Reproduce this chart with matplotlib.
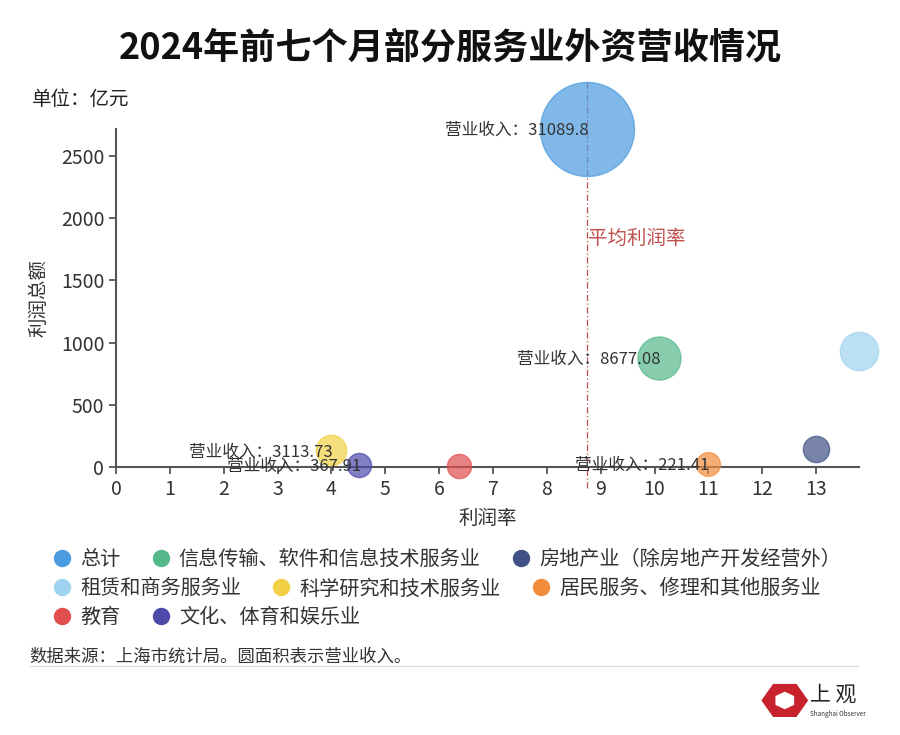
import matplotlib
matplotlib.use("Agg")
import matplotlib.pyplot as plt
from matplotlib.lines import Line2D
from matplotlib.patches import RegularPolygon

plt.rcParams['font.family'] = ['Noto Sans CJK SC', 'DejaVu Sans']

# data (亿元, %)
industries = ['总计', '信息传输、软件和信息技术服务业', '房地产业（除房地产开发经营外）',
              '租赁和商务服务业', '科学研究和技术服务业', '居民服务、修理和其他服务业',
              '教育', '文化、体育和娱乐业']
profit_rate = [8.75, 10.09, 13.0, 13.8, 4.0, 11.0, 6.37, 4.52]
total_profit = [2715, 875, 149, 935, 135, 24, 14, 18]
revenue = [31089.8, 8677.08, 1300, 6600, 3113.73, 221.41, 400, 367.91]
show_label = [True, True, False, False, True, True, False, True]
avg_rate = 8.75

colors = ['#4b9be0', '#55b88a', '#3f5185', '#9fd4f0',
          '#f2d045', '#f28c3c', '#e04e4e', '#4d4aaa']

fig = plt.figure(figsize=(9, 7.35), dpi=100)
ax = fig.add_axes([0.129, 0.3642, 0.8256, 0.4603])

# bubble diameter in px grows linearly with revenue, converted to points^2
sizes = [((23.3 + 0.002275 * r) * 0.72) ** 2 for r in revenue]
for x, y, s, c in zip(profit_rate, total_profit, sizes, colors):
    ax.scatter(x, y, s=s, color=c, alpha=0.7, edgecolors=c, linewidths=1.0,
               zorder=3, clip_on=False)

for x, y, r, lab in zip(profit_rate, total_profit, revenue, show_label):
    if lab:
        ax.annotate(f'营业收入：{r:g}', (x, y), xytext=(1, -1), textcoords='offset points',
                    ha='right', va='center', fontsize=12, color='#333333', zorder=5)

ax.axvline(avg_rate, ymin=-0.062, ymax=1.145, color='#c0504d', linestyle=(0, (5, 2, 1, 2)),
           linewidth=0.9, clip_on=False, zorder=2)
ax.text(avg_rate + 0.02, 1840, '平均利润率', color='#c0504d', fontsize=14,
        ha='left', va='center')

ax.set_xlim(0, 13.8)
ax.set_ylim(0, 2715)
ax.set_xticks(range(0, 14))
ax.set_yticks(range(0, 2501, 500))
for side in ['top', 'right']:
    ax.spines[side].set_visible(False)
for side in ['left', 'bottom']:
    ax.spines[side].set_color('#555555')
    ax.spines[side].set_linewidth(1.5)
ax.tick_params(colors='#555555', labelcolor='#333333', labelsize=14, length=5, width=1.3)
ax.set_xlabel('利润率', fontsize=14, color='#333333', labelpad=6)
ax.set_ylabel('利润总额', fontsize=14, color='#333333', labelpad=8)

fig.text(0.5, 0.935, '2024年前七个月部分服务业外资营收情况', ha='center', va='center',
         fontsize=26, fontweight='bold', color='#111111')
fig.text(0.035, 0.864, '单位：亿元', ha='left', va='center', fontsize=14, color='#222222')

# legend, three rows
rows = [[0, 1, 2], [3, 4, 5], [6, 7]]
row_tops = [0.253, 0.213, 0.174]
for idx, top in zip(rows, row_tops):
    handles = [Line2D([], [], marker='o', linestyle='', markersize=11.5,
                      markerfacecolor=colors[i], markeredgecolor=colors[i]) for i in idx]
    leg = fig.legend(handles, [industries[i] for i in idx], loc='upper left',
                     bbox_to_anchor=(0.06, top), ncol=len(idx), frameon=False,
                     fontsize=14.5, handlelength=0.8, handletextpad=0.5,
                     columnspacing=1.6, borderpad=0, borderaxespad=0)
    for t in leg.get_texts():
        t.set_color('#333333')

fig.text(0.033, 0.107, '数据来源：上海市统计局。圆面积表示营业收入。', ha='left', va='center',
         fontsize=12.5, color='#333333')
fig.add_artist(Line2D([0.033, 0.953], [0.094, 0.094], color='#dddddd', linewidth=1))

# logo
fig.add_artist(RegularPolygon((0.872, 0.047), 6, radius=0.026, orientation=0.5236,
                              facecolor='#c8232c', edgecolor='none',
                              transform=fig.transFigure))
fig.add_artist(RegularPolygon((0.872, 0.047), 6, radius=0.012, orientation=0.0,
                              facecolor='white', edgecolor='none',
                              transform=fig.transFigure))
fig.text(0.9, 0.055, '上 观', ha='left', va='center', fontsize=15, color='#222222')
fig.text(0.9, 0.028, 'Shanghai Observer', ha='left', va='center', fontsize=4.5,
         color='#333333')

fig.savefig('out.png', dpi=100)
